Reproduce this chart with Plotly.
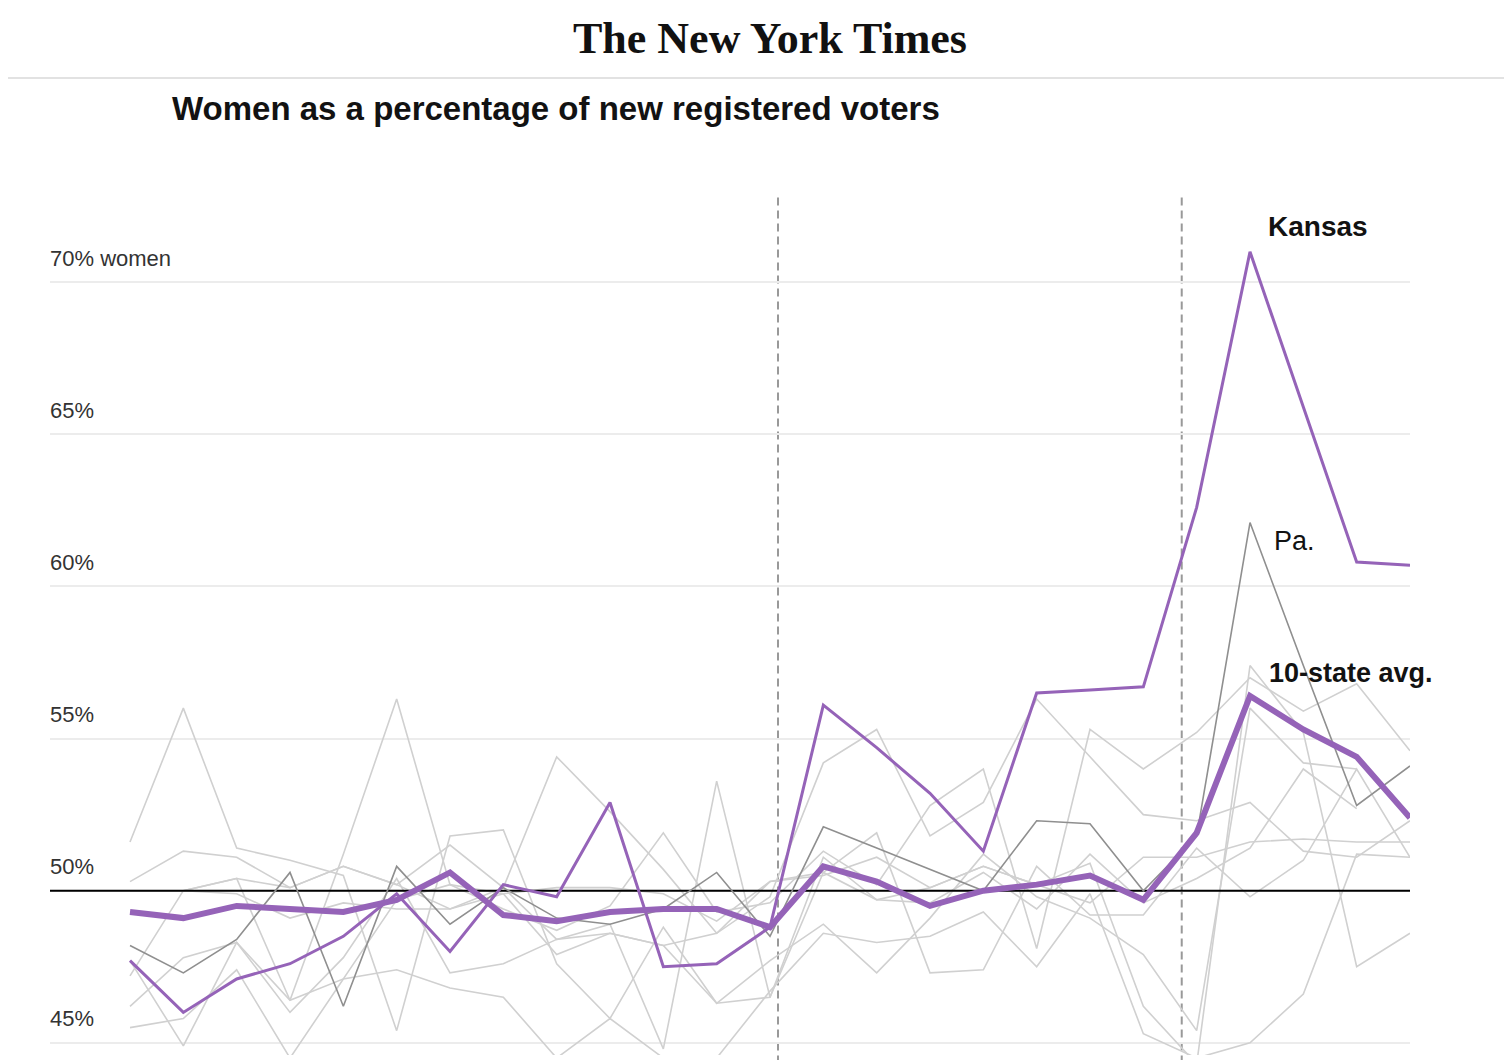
import plotly.graph_objects as go

# ---------------- data ----------------
weeks = list(range(25))  # 25 weekly observations

kansas = [47.7, 46.0, 47.1, 47.6, 48.5, 49.9, 48.0, 50.2, 49.8, 52.9, 47.5, 47.6, 48.8,
          56.1, 54.7, 53.2, 51.3, 56.5, 56.6, 56.7, 62.6, 71.0, 65.9, 60.8, 60.7]

avg10 = [49.3, 49.1, 49.5, 49.4, 49.3, 49.7, 50.6, 49.2, 49.0, 49.3, 49.4, 49.4, 48.8,
         50.8, 50.3, 49.5, 50.0, 50.2, 50.5, 49.7, 51.9, 56.4, 55.3, 54.4, 52.4]

penn = [48.2, 47.3, 48.4, 50.6, 46.2, 50.8, 48.9, 50.1, 49.1, 48.9, 49.4, 50.6, 48.5,
        52.1, 51.4, 50.7, 50.0, 52.3, 52.2, 50.0, 51.8, 62.1, 57.4, 52.8, 54.1]

other_states = [
    [51.6, 56.0, 51.4, 51.0, 50.5, 45.4, 51.8, 52.0, 47.6, 45.8, 48.8, 46.3, 47.7,
     48.9, 47.3, 49.1, 51.2, 49.8, 49.1, 47.9, 45.4, 56.0, 54.2, 54.0, None],
    [50.3, 51.3, 51.1, 50.1, 50.8, 50.2, 51.5, 50.1, 54.4, 52.6, 50.7, 48.6, 49.8,
     54.2, 55.3, 51.8, 52.9, 56.3, 54.4, 52.5, 52.3, 52.9, 51.3, 51.1, 52.3],
    [50.0, 50.0, 49.9, 49.1, 49.6, 49.4, 49.4, 49.9, 50.1, 50.1, 49.9, 49.0, 50.3,
     50.5, 51.1, 50.1, 50.8, 50.2, 49.6, 51.1, 51.1, 51.6, 51.7, 51.6, 51.6],
    [47.2, 50.0, 50.4, 46.4, 51.2, 56.3, 50.2, 49.4, 48.7, 49.5, 51.9, 49.3, 49.6,
     51.3, 50.2, 52.8, 54.0, 48.1, 55.3, 54.0, 55.2, 57.0, 55.9, 56.8, 54.6],
    [46.2, 47.8, 48.3, 46.0, 47.8, 50.4, 47.3, 47.6, 48.4, 48.9, 44.8, 53.6, 46.5,
     51.1, 49.7, 49.6, 50.6, 49.4, 51.2, 49.6, 50.4, 51.4, 54.0, 52.7, None],
    [45.5, 45.8, 47.4, 44.5, 47.1, 47.4, 46.8, 46.5, 44.5, 45.8, 44.5, 44.5, 46.7,
     48.6, 48.3, 48.5, 49.3, 47.5, 49.9, 45.3, 44.5, 45.0, 46.6, 51.2, 51.1],
    [47.7, 44.9, 48.3, 46.4, 47.1, 49.7, 50.2, 49.9, 47.9, 48.6, 48.2, 46.3, 46.5,
     50.6, 51.9, 47.3, 47.4, 50.8, 49.2, 49.2, 51.4, 49.8, 51.0, 54.0, 51.1],
    [50.0, 50.0, 50.4, 50.1, 50.8, 50.2, 49.4, 50.1, 48.4, 48.6, 48.2, 48.6, 50.3,
     50.6, 49.7, 50.1, 50.8, 50.2, 50.9, 46.2, 44.3, 57.4, 55.2, 47.5, 48.6],
]

event_weeks = [12.15, 19.72]          # dashed reference dates
tick_values = [45, 50, 55, 60, 65, 70]
tick_labels = ["45%", "50%", "55%", "60%", "65%", "70% women"]
parity = 50

# ---------------- styles ----------------
PURPLE = "#9563b8"
LIGHT = "#d0d0d0"
DARK = "#8f8f8f"
XR = [-1.5, 24]
YR = [44.6, 72.8]

fig = go.Figure()

for s in other_states:
    fig.add_trace(go.Scatter(x=weeks, y=s, mode="lines",
                             line=dict(color=LIGHT, width=1.6), hoverinfo="skip"))

fig.add_trace(go.Scatter(x=XR, y=[parity, parity], mode="lines",
                         line=dict(color="#000000", width=2), hoverinfo="skip"))

fig.add_trace(go.Scatter(x=weeks, y=penn, mode="lines",
                         line=dict(color=DARK, width=1.6), hoverinfo="skip"))
fig.add_trace(go.Scatter(x=weeks, y=kansas, mode="lines",
                         line=dict(color=PURPLE, width=3), hoverinfo="skip"))
fig.add_trace(go.Scatter(x=weeks, y=avg10, mode="lines",
                         line=dict(color=PURPLE, width=6), hoverinfo="skip"))

for ev in event_weeks:
    fig.add_shape(type="line", xref="x", yref="paper", x0=ev, x1=ev, y0=-0.01, y1=1,
                  line=dict(color="#999999", width=2, dash="8px,5px"), layer="below")

# header rule
fig.add_shape(type="line", xref="paper", yref="paper", x0=-0.05, x1=1.09,
              y0=1.1387, y1=1.1387, line=dict(color="#e2e2e2", width=2))

annotations = []
for v, t in zip(tick_values, tick_labels):
    annotations.append(dict(x=-0.0015, xref="paper", y=v, yref="y", text=t,
                            showarrow=False, xanchor="left", yanchor="middle", yshift=24,
                            font=dict(family="Liberation Sans, Arial, sans-serif",
                                      size=22, color="#333333")))

annotations += [
    dict(x=0.5294, xref="paper", y=1.1853, yref="paper", text="<b>The New York Times</b>",
         showarrow=False, xanchor="center", yanchor="middle",
         font=dict(family="Liberation Serif, Times New Roman, serif", size=44, color="#111111")),
    dict(x=0.0882, xref="paper", y=1.1037, yref="paper",
         text="<b>Women as a percentage of new registered voters</b>",
         showarrow=False, xanchor="left", yanchor="middle",
         font=dict(family="Liberation Sans, Arial, sans-serif", size=33, color="#121212")),
    dict(x=21.3, xref="x", y=71.83, yref="y", text="<b>Kansas</b>", showarrow=False,
         xanchor="left", yanchor="middle",
         font=dict(family="Liberation Sans, Arial, sans-serif", size=28, color="#121212")),
    dict(x=21.41, xref="x", y=61.48, yref="y", text="Pa.", showarrow=False,
         xanchor="left", yanchor="middle",
         font=dict(family="Liberation Sans, Arial, sans-serif", size=27, color="#121212")),
    dict(x=21.32, xref="x", y=57.15, yref="y", text="<b>10-state avg.</b>", showarrow=False,
         xanchor="left", yanchor="middle",
         font=dict(family="Liberation Sans, Arial, sans-serif", size=27, color="#121212")),
]

fig.update_layout(
    width=1512, height=1060,
    margin=dict(l=42, r=110, t=189, b=13),
    paper_bgcolor="white", plot_bgcolor="white",
    showlegend=False, hovermode=False,
    annotations=annotations,
    xaxis=dict(range=XR, showgrid=False, zeroline=False, showticklabels=False,
               showline=False, ticks=""),
    yaxis=dict(range=YR, tickvals=tick_values, showticklabels=False, showgrid=True,
               gridcolor="#ececec", gridwidth=2, zeroline=False, showline=False, ticks=""),
)

fig.write_html("out.html")
